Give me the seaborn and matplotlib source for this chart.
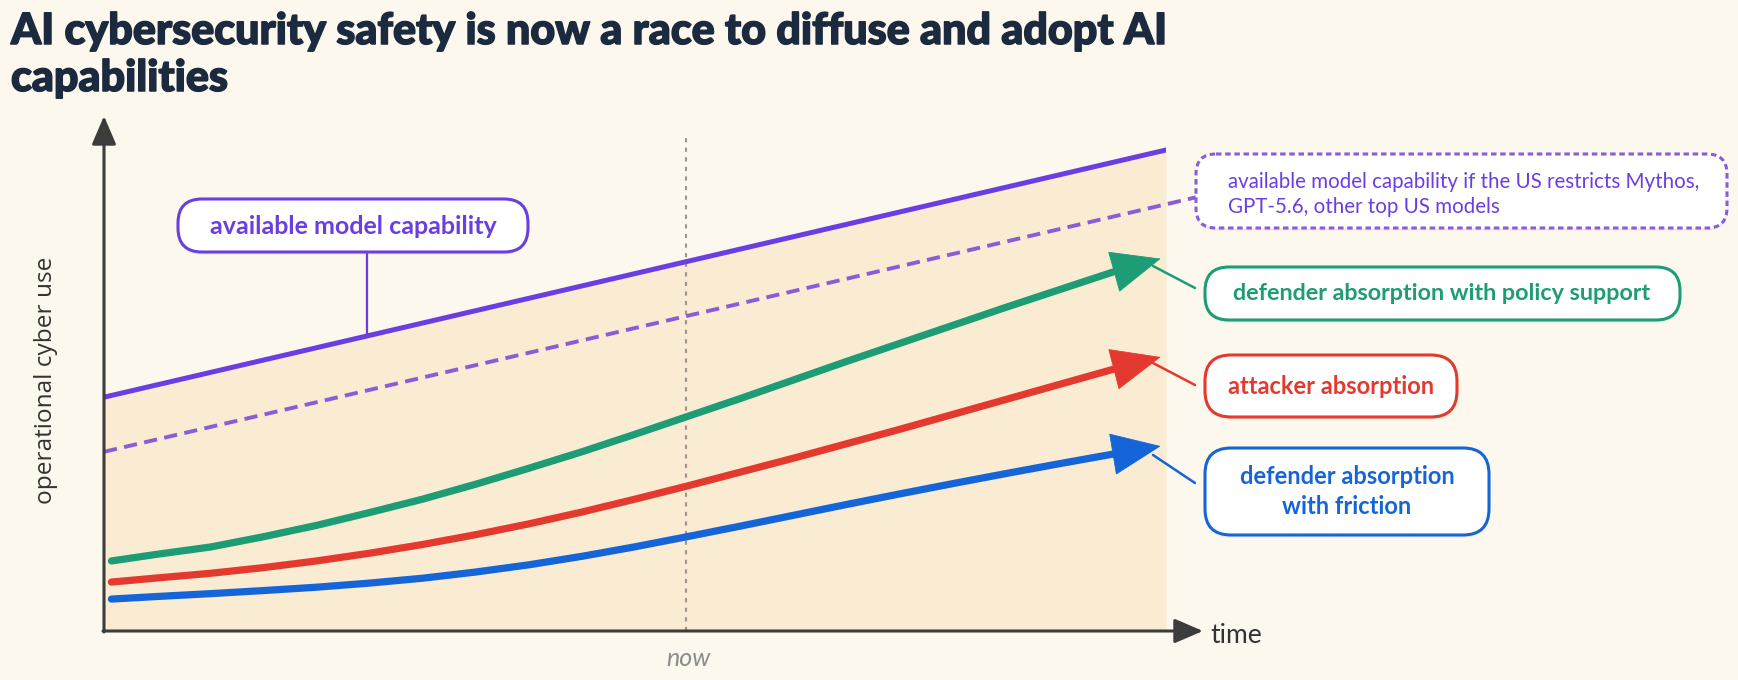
import matplotlib
matplotlib.use("Agg")
import matplotlib.pyplot as plt
import matplotlib.patheffects as pe
from matplotlib.patches import FancyBboxPatch
import seaborn as sns

# ---- data (arbitrary units) ----
time_pts = [0.07, 0.5, 1.0, 1.5, 2.0, 2.5, 3.0, 3.5, 4.0, 4.5,
            5.0, 5.5, 6.0, 6.5, 7.0, 7.5, 8.0, 8.5, 9.0, 9.5]
green_vals = [1.36, 1.49, 1.63, 1.83, 2.05, 2.30, 2.56, 2.85, 3.16, 3.48,
              3.82, 4.17, 4.52, 4.88, 5.24, 5.59, 5.94, 6.29, 6.63, 6.97]
red_vals = [0.95, 1.03, 1.12, 1.23, 1.36, 1.51, 1.68, 1.87, 2.08, 2.31,
            2.56, 2.82, 3.09, 3.36, 3.64, 3.92, 4.21, 4.50, 4.79, 5.08]
blue_vals = [0.62, 0.67, 0.725, 0.785, 0.85, 0.93, 1.025, 1.145, 1.285, 1.45,
             1.635, 1.835, 2.04, 2.25, 2.46, 2.665, 2.865, 3.06, 3.25, 3.435]
tip_time = 9.95
green_tip = 7.23
red_tip = 5.32
blue_tip = 3.59

cap_time = [0, 10]
cap_vals = [4.54, 9.34]
restricted_time = [0, 10.28]
restricted_vals = [3.48, 8.42]
now_time = 5.48

title_lines = ["AI cybersecurity safety is now a race to diffuse and adopt AI",
               "capabilities"]

PURPLE = "#6a3fe2"
PURPLE_LIGHT = "#8a5cd8"
GREEN = "#1d9c75"
RED = "#e4392f"
BLUE = "#1565d8"
AXIS = "#3c3c3c"
BG = "#fcf8ee"
SHADE = "#faecd2"
TITLE = "#1b2a3e"

W, H = 1738, 680

sns.set_theme(style="white")
plt.rcParams['font.family'] = ['Lato', 'DejaVu Sans']

fig = plt.figure(figsize=(W / 100, H / 100), dpi=100)
fig.patch.set_facecolor(BG)

# main data axes: (0,0) sits on the axis corner
ax = fig.add_axes([104 / W, (H - 631) / H, 1062 / W, 515 / H])
ax.set_xlim(0, 10)
ax.set_ylim(0, 10)
ax.axis('off')
ax.patch.set_alpha(0)

ax.fill_between(cap_time, 0, cap_vals, color=SHADE, lw=0, zorder=0)
ax.plot([now_time, now_time], [0, 9.57], color="#9a958e", lw=1.5,
        dashes=(2, 2.6), zorder=1)

sns.lineplot(x=cap_time, y=cap_vals, ax=ax, color=PURPLE, lw=3.6,
             sort=False, estimator=None, zorder=3)
sns.lineplot(x=restricted_time, y=restricted_vals, ax=ax, color=PURPLE_LIGHT,
             lw=2.8, sort=False, estimator=None, zorder=3)
ax.lines[-1].set_dashes((3.4, 1.9))
ax.lines[-1].set_clip_on(False)

for vals, tip, col in [(green_vals, green_tip, GREEN),
                       (red_vals, red_tip, RED),
                       (blue_vals, blue_tip, BLUE)]:
    sns.lineplot(x=time_pts, y=vals, ax=ax, color=col, lw=5.2,
                 sort=False, estimator=None, zorder=4)
    ax.lines[-1].set_solid_capstyle('round')
    ax.lines[-1].set_solid_joinstyle('round')
    ax.annotate('', xy=(tip_time, tip), xytext=(time_pts[-1], vals[-1]),
                arrowprops=dict(arrowstyle='-|>,head_length=3.4,head_width=1.45',
                                mutation_scale=10, color=col, lw=0.6,
                                shrinkA=0, shrinkB=0),
                zorder=5, annotation_clip=False)

# overlay in pixel units for the axes arrows, labels and call-out boxes
ov = fig.add_axes([0, 0, 1, 1], zorder=5)
ov.set_xlim(0, W)
ov.set_ylim(H, 0)
ov.axis('off')
ov.patch.set_alpha(0)

arrow_kw = dict(arrowstyle='-|>,head_length=1.75,head_width=0.75',
                mutation_scale=10, color=AXIS, lw=2.2, shrinkA=0, shrinkB=0)
ov.annotate('', xy=(104, 116), xytext=(104, 632), arrowprops=arrow_kw)
ov.annotate('', xy=(1203, 631), xytext=(103, 631), arrowprops=arrow_kw)

ov.text(1210, 643, "time", fontsize=19, color="#333333", va='baseline')
ov.text(688, 666, "now", fontsize=18, style='italic', color="#8c8c8c",
        ha='center', va='baseline')
ov.text(46, 380, "operational cyber use", rotation=90, fontsize=17.6,
        family='Open Sans', color="#333333", ha='center', va='center')

for i, line in enumerate(title_lines):
    fig.text(11 / W, 1 - (44 + 47 * i) / H, line, fontsize=31,
             fontweight='black', color=TITLE, va='baseline',
             path_effects=[pe.withStroke(linewidth=1.1, foreground=TITLE)])


def callout(x0, y0, x1, y1, color, ls='-', radius=22):
    p = FancyBboxPatch((x0, y0), x1 - x0, y1 - y0,
                       boxstyle=f"round,pad=0,rounding_size={radius}",
                       fc='white', ec=color, lw=2.2, ls=ls, zorder=6)
    p.set_path_effects([pe.SimplePatchShadow(offset=(0, -2), alpha=0.06),
                        pe.Normal()])
    ov.add_patch(p)


# available model capability
ov.plot([367, 367], [252, 335], color=PURPLE, lw=1.6, zorder=5)
callout(178, 199, 528, 252, PURPLE, radius=24)
ov.text(353, 226, "available model capability", color=PURPLE, fontsize=18,
        fontweight='bold', ha='center', va='center', zorder=7)

# restricted scenario
callout(1196, 154, 1727, 228, PURPLE_LIGHT, ls=(0, (1.8, 1.2)), radius=20)
ov.text(1228, 182, "available model capability if the US restricts Mythos,",
        color=PURPLE, fontsize=14.8, ha='left', va='center', zorder=7)
ov.text(1228, 207, "GPT-5.6, other top US models",
        color=PURPLE, fontsize=14.8, ha='left', va='center', zorder=7)

# series call-outs
ov.plot([1153, 1195], [266, 288], color=GREEN, lw=1.8, zorder=5)
callout(1205, 267, 1680, 320, GREEN, radius=24)
ov.text(1442, 294, "defender absorption with policy support", color=GREEN,
        fontsize=16.8, fontweight='bold', ha='center', va='center', zorder=7)

ov.plot([1153, 1195], [363, 385], color=RED, lw=1.8, zorder=5)
callout(1205, 355, 1457, 417, RED, radius=26)
ov.text(1331, 387, "attacker absorption", color=RED,
        fontsize=17, fontweight='bold', ha='center', va='center', zorder=7)

ov.plot([1153, 1195], [455, 483], color=BLUE, lw=1.8, zorder=5)
callout(1205, 448, 1489, 535, BLUE, radius=26)
ov.text(1347, 477, "defender absorption", color=BLUE,
        fontsize=17, fontweight='bold', ha='center', va='center', zorder=7)
ov.text(1347, 507, "with friction", color=BLUE,
        fontsize=17, fontweight='bold', ha='center', va='center', zorder=7)

fig.savefig("out.png", dpi=100, facecolor=BG)
